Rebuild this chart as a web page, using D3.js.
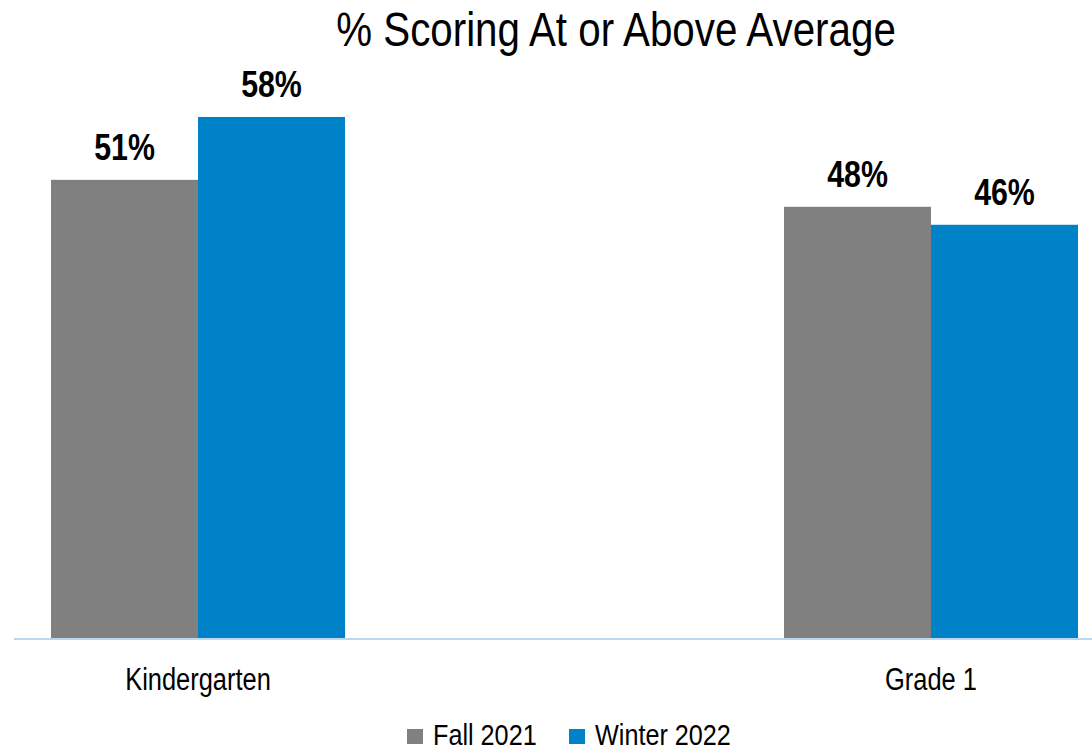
<!DOCTYPE html>
<html>
<head>
<meta charset="utf-8">
<script src="https://cdn.jsdelivr.net/npm/d3@7"></script>
<style>
  body { margin: 0; background: #fff; }
  svg text { font-family: "Liberation Sans Narrow", "Arial Narrow", "Liberation Sans", Arial, sans-serif; fill: #000; }
</style>
</head>
<body>
<div id="chart"></div>
<script>
const categories = ['Kindergarten', 'Grade 1'];
const seriesNames = ['Fall 2021', 'Winter 2022'];
const fall2021 = [51, 48];   // Kindergarten, Grade 1
const winter2022 = [58, 46];
const seriesColors = ['#808080', '#0082C8'];

const width = 1092, height = 751;
const baseline = 638;

const svg = d3.select('#chart')
  .append('svg')
  .attr('width', width)
  .attr('height', height);

// the reference uses a narrow face; squeeze the regular one to match
function narrow(sel, factor = 0.82) {
  sel.each(function () {
    const w = this.getComputedTextLength();
    d3.select(this)
      .attr('textLength', w * factor)
      .attr('lengthAdjust', 'spacingAndGlyphs');
  });
}

// title
svg.append('text')
  .attr('x', 616)
  .attr('y', 46)
  .attr('text-anchor', 'middle')
  .style('font-size', '48px')
  .text('% Scoring At or Above Average')
  .call(narrow, 0.84);

// scales
const x0 = d3.scalePoint().domain(categories).range([198, 931]);
const x1 = d3.scaleBand().domain(seriesNames).range([-147, 147]);
const y = d3.scaleLinear().domain([0, 60]).range([baseline, 99]);
const color = d3.scaleOrdinal().domain(seriesNames).range(seriesColors);

const rows = categories.map((c, i) => ({
  category: c,
  values: [
    { name: seriesNames[0], value: fall2021[i] },
    { name: seriesNames[1], value: winter2022[i] }
  ]
}));

const groups = svg.selectAll('.group')
  .data(rows)
  .enter()
  .append('g')
  .attr('class', 'group')
  .attr('transform', d => `translate(${x0(d.category)},0)`);

groups.selectAll('rect')
  .data(d => d.values)
  .enter()
  .append('rect')
  .attr('x', d => x1(d.name))
  .attr('y', d => y(d.value))
  .attr('width', x1.bandwidth())
  .attr('height', d => y(0) - y(d.value))
  .attr('fill', d => color(d.name));

// data labels
groups.selectAll('.label')
  .data(d => d.values)
  .enter()
  .append('text')
  .attr('class', 'label')
  .attr('x', d => x1(d.name) + x1.bandwidth() / 2)
  .attr('y', d => y(d.value) - 20)
  .attr('text-anchor', 'middle')
  .style('font-size', '37px')
  .style('font-weight', 'bold')
  .text(d => d.value + '%')
  .call(narrow);

// category axis line
svg.append('line')
  .attr('x1', 14)
  .attr('x2', width)
  .attr('y1', baseline + 1)
  .attr('y2', baseline + 1)
  .attr('stroke', '#BDD7EE')
  .attr('stroke-width', 2);

// category labels
svg.selectAll('.cat')
  .data(categories)
  .enter()
  .append('text')
  .attr('class', 'cat')
  .attr('x', d => x0(d))
  .attr('y', 690)
  .attr('text-anchor', 'middle')
  .style('font-size', '31px')
  .text(d => d)
  .call(narrow);

// legend
const legendX = [407, 569];
const legend = svg.selectAll('.legend')
  .data(seriesNames)
  .enter()
  .append('g')
  .attr('class', 'legend')
  .attr('transform', (d, i) => `translate(${legendX[i]},729)`);

legend.append('rect')
  .attr('width', 16)
  .attr('height', 15)
  .attr('fill', d => color(d));

legend.append('text')
  .attr('x', 26)
  .attr('y', 16)
  .style('font-size', '30px')
  .text(d => d)
  .call(narrow, 0.84);
</script>
</body>
</html>
